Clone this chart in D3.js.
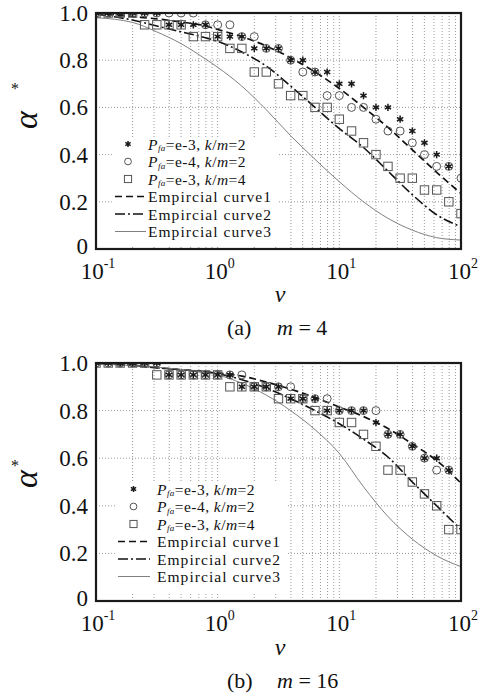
<!DOCTYPE html>
<html><head><meta charset="utf-8">
<script src="https://cdn.jsdelivr.net/npm/d3@7"></script>
<style>body{margin:0;background:#fff}svg{display:block}</style>
</head><body>
<svg id="chart" width="481" height="696"></svg>
<script>
// ---------- data ----------
const vValues = [0.1,0.126,0.158,0.2,0.251,0.316,0.398,0.501,0.631,0.794,1,1.26,1.58,2,2.51,3.16,3.98,5.01,6.31,7.94,10,12.6,15.8,20,25.1,31.6,39.8,50.1,63.1,79.4,100];

// panel (a) m = 4
const starsA   = [1,1,1,1,1,1,.95,.95,.95,.95,.9,.9,.9,.85,.85,.85,.8,.8,.75,.75,.7,.7,.65,.6,.6,.55,.5,.45,.4,.35,null];
const circlesA = [1,1,1,1,1,1,1,1,1,.95,.95,.95,.9,.9,.85,.85,.8,.75,.75,.65,.65,.6,.6,.55,.5,.5,.45,.4,.35,.35,.3];
const squaresA = [1,1,1,1,.95,.95,.95,.95,.9,.9,.9,.85,.85,.75,.75,.7,.65,.65,.6,.6,.55,.5,.45,.4,.35,.3,.3,.25,.25,.2,.15];

// panel (b) m = 16
const starsB   = [1,1,1,1,1,1,.95,.95,.95,.95,.95,.95,.9,.9,.9,.9,.85,.85,.85,.8,.8,.8,.8,.75,.7,.7,.65,.6,.6,.55,null];
const circlesB = [1,1,1,1,1,1,.95,.95,.95,.95,.95,.95,.95,.9,.9,.9,.9,.85,.85,.85,.8,.8,.8,.8,.7,.7,.65,.6,.55,.55,null];
const squaresB = [1,1,1,1,1,.95,.95,.95,.95,.95,.95,.9,.9,.9,.9,.85,.85,.85,.8,.8,.75,.75,.7,.65,.55,.55,.5,.45,.4,.3,.3];

// empirical curves, read at these v positions
const curveV  = [0.1,0.2,0.316,0.501,0.794,1,1.58,2.51,3.98,6.31,10,15.8,25.1,39.8,63.1,100];
const curve1A = [1.0,0.985,0.975,0.962,0.945,0.93,0.9,0.86,0.81,0.75,0.68,0.60,0.515,0.42,0.325,0.235];
const curve2A = [0.995,0.97,0.945,0.92,0.895,0.88,0.835,0.775,0.69,0.60,0.51,0.43,0.33,0.23,0.145,0.094];
const curve3A = [0.98,0.96,0.92,0.87,0.805,0.77,0.69,0.59,0.48,0.38,0.285,0.2,0.13,0.08,0.048,0.038];
const curve1B = [1.0,0.99,0.98,0.972,0.963,0.958,0.945,0.92,0.89,0.855,0.815,0.775,0.725,0.66,0.59,0.495];
const curve2B = [0.998,0.99,0.98,0.972,0.962,0.955,0.93,0.895,0.85,0.80,0.745,0.68,0.605,0.5,0.4,0.3];
const curve3B = [0.995,0.99,0.983,0.973,0.96,0.95,0.915,0.865,0.8,0.72,0.62,0.48,0.355,0.26,0.19,0.144];

const yTicks = [0,0.2,0.4,0.6,0.8,1.0];
const yTickLabels = ["0","0.2","0.4","0.6","0.8","1.0"];
const xTicks = [0.1,1,10,100];
const xTickExps = ["-1","0","1","2"];
const legendPfa = ["e-3","e-4","e-3"];
const legendKm  = ["2","2","4"];
const legendCurves = ["Empircial curve1","Empircial curve2","Empircial curve3"];
const captions = [["(a)","m","= 4"],["(b)","m","= 16"]];

// ---------- drawing ----------
const svg = d3.select("#chart");
const FONT = "'Liberation Serif','Times New Roman',serif";

function starPath(r){
  let p = "";
  for (let i=0;i<3;i++){
    const a = Math.PI/2 + i*Math.PI/3;
    p += `M${(-r*Math.cos(a)).toFixed(2)},${(-r*Math.sin(a)).toFixed(2)}L${(r*Math.cos(a)).toFixed(2)},${(r*Math.sin(a)).toFixed(2)}`;
  }
  return p;
}

function drawMarker(g, type, s){
  s = s || 1;
  if (type==="star"){
    g.append("path").attr("d", starPath(3.6*s)).attr("stroke","#1a1a1a").attr("stroke-width",1.5).attr("fill","none");
    g.append("circle").attr("r",1.3).attr("fill","#1a1a1a");
  } else if (type==="circle"){
    g.append("circle").attr("r",4*s).attr("fill","none").attr("stroke","#555").attr("stroke-width",1);
  } else {
    g.append("rect").attr("x",-4.2*s).attr("y",-4.2*s).attr("width",8.4*s).attr("height",8.4*s)
      .attr("fill","none").attr("stroke","#555").attr("stroke-width",1);
  }
}

const lineStyles = [
  {dash:"7,4", w:1.7, c:"#111"},
  {dash:"10,3,2,3", w:1.6, c:"#111"},
  {dash:null, w:1, c:"#808080"}
];

function drawPanel(cfg){
  const x = d3.scaleLog().domain([0.1,100]).range([96,461]);
  const y = d3.scaleLinear().domain([0,1]).range([cfg.bottom,cfg.top]);
  const g = svg.append("g");
  const clipId = "clip"+cfg.id;
  svg.append("clipPath").attr("id",clipId).append("rect")
    .attr("x",96).attr("y",cfg.top).attr("width",365).attr("height",cfg.bottom-cfg.top);

  // grid
  const minor = x.ticks(30);
  g.append("g").selectAll("line").data(minor).join("line")
    .attr("x1",d=>x(d)).attr("x2",d=>x(d)).attr("y1",cfg.top).attr("y2",cfg.bottom)
    .attr("stroke","#9a9a9a").attr("stroke-width",1).attr("stroke-dasharray","1,2");
  g.append("g").selectAll("line").data(yTicks.slice(1,5)).join("line")
    .attr("x1",96).attr("x2",461).attr("y1",d=>y(d)).attr("y2",d=>y(d))
    .attr("stroke","#9a9a9a").attr("stroke-width",1).attr("stroke-dasharray","1,2");

  // curves
  const line = d3.line().x(d=>x(d[0])).y(d=>y(d[1])).curve(d3.curveMonotoneX);
  const cg = g.append("g").attr("clip-path",`url(#${clipId})`);
  cfg.curves.forEach((c,i)=>{
    const st = lineStyles[i];
    cg.append("path").attr("d", line(curveV.map((v,j)=>[v,c[j]])))
      .attr("fill","none").attr("stroke",st.c).attr("stroke-width",st.w)
      .attr("stroke-dasharray",st.dash);
  });

  // markers
  const mg = g.append("g").attr("clip-path",`url(#${clipId})`);
  [["square",cfg.squares],["circle",cfg.circles],["star",cfg.stars]].forEach(([t,arr])=>{
    arr.forEach((a,j)=>{
      if (a===null) return;
      const mk = mg.append("g").attr("transform",`translate(${x(vValues[j])},${y(a)})`);
      drawMarker(mk,t);
    });
  });

  // legend
  const L = cfg.legend;
  const lg = g.append("g");
  lg.append("rect").attr("x",L.x0).attr("y",L.y0).attr("width",L.x1-L.x0).attr("height",L.y1-L.y0).attr("fill","#fff");
  const types = ["star","circle","square"];
  const fs = 15.5;
  for (let i=0;i<3;i++){
    const ry = L.rows[i];
    const mk = lg.append("g").attr("transform",`translate(${L.mx},${ry})`);
    drawMarker(mk,types[i],0.85);
    const t = lg.append("text").attr("x",L.tx).attr("y",ry+5.5).attr("font-family",FONT)
      .attr("font-size",fs).attr("letter-spacing",0.45).attr("fill","#111");
    t.append("tspan").attr("font-style","italic").text("P");
    t.append("tspan").attr("font-style","italic").attr("font-size",9).attr("dy",1.5).text("fa");
    t.append("tspan").attr("dy",-1.5).text("=" + legendPfa[i] + ", ");
    t.append("tspan").attr("font-style","italic").text("k");
    t.append("tspan").text("/");
    t.append("tspan").attr("font-style","italic").text("m");
    t.append("tspan").text("=" + legendKm[i]);
  }
  for (let i=0;i<3;i++){
    const ry = L.rows[3+i];
    const st = lineStyles[i];
    lg.append("line").attr("x1",L.lx0).attr("x2",L.lx1).attr("y1",ry).attr("y2",ry)
      .attr("stroke",st.c).attr("stroke-width",st.w).attr("stroke-dasharray",st.dash);
    lg.append("text").attr("x",L.tx).attr("y",ry+5.5).attr("font-family",FONT).attr("font-size",fs)
      .attr("letter-spacing",1.05).attr("fill","#111").text(legendCurves[i]);
  }

  // frame
  g.append("rect").attr("x",96).attr("y",cfg.top).attr("width",365).attr("height",cfg.bottom-cfg.top)
    .attr("fill","none").attr("stroke","#1a1a1a").attr("stroke-width",2.2);

  // y tick labels
  g.append("g").selectAll("text").data(yTicks).join("text")
    .attr("x",88).attr("y",d=>y(d) - (d===0 ? 3 : 0)).attr("dy","0.35em").attr("text-anchor","end")
    .attr("font-family",FONT).attr("font-size",23).attr("fill","#111")
    .text((d,i)=>yTickLabels[i]);

  // x tick labels
  xTicks.forEach((v,i)=>{
    const t = g.append("text").attr("x",x(v)+2).attr("y",cfg.bottom+30).attr("text-anchor","middle")
      .attr("font-family",FONT).attr("font-size",23).attr("fill","#111");
    t.append("tspan").text("10");
    t.append("tspan").attr("font-size",14).attr("dy",-11).text(xTickExps[i]);
  });

  // axis titles
  g.append("text").attr("x",280).attr("y",cfg.vy).attr("text-anchor","middle")
    .attr("font-family",FONT).attr("font-style","italic").attr("font-size",24).attr("fill","#111").text("v");
  g.append("text").attr("transform",`translate(37,${cfg.ay}) rotate(-90)`)
    .attr("text-anchor","middle").attr("font-family",FONT).attr("font-style","italic")
    .attr("font-size",34).attr("fill","#111").text("α");
  g.append("text").attr("x",15).attr("y",cfg.sy).attr("text-anchor","middle").attr("dy","0.6em")
    .attr("font-family",FONT).attr("font-size",16).attr("fill","#111").text("*");

  // caption
  const cap = g.append("text").attr("x",227).attr("y",cfg.capy).attr("font-family",FONT).attr("font-size",22).attr("fill","#111");
  cap.append("tspan").text(captions[cfg.id][0]);
  cap.append("tspan").attr("x",277).attr("font-style","italic").text(captions[cfg.id][1]);
  cap.append("tspan").text(" " + captions[cfg.id][2]);
}

drawPanel({id:0, top:13, bottom:249, stars:starsA, circles:circlesA, squares:squaresA,
  curves:[curve1A,curve2A,curve3A], vy:302, capy:335, ay:120, sy:84,
  legend:{x0:114,x1:277,y0:137,y1:246,mx:128,tx:148,lx0:115,lx1:146,rows:[144,161.5,179,196.5,214,231.5]}});
drawPanel({id:1, top:363, bottom:601, stars:starsB, circles:circlesB, squares:squaresB,
  curves:[curve1B,curve2B,curve3B], vy:655, capy:688, ay:479, sy:461,
  legend:{x0:117,x1:287,y0:481,y1:592,mx:133.5,tx:157,lx0:118,lx1:150,rows:[489,506.5,524,541.5,559,576.5]}});
</script>
</body></html>
